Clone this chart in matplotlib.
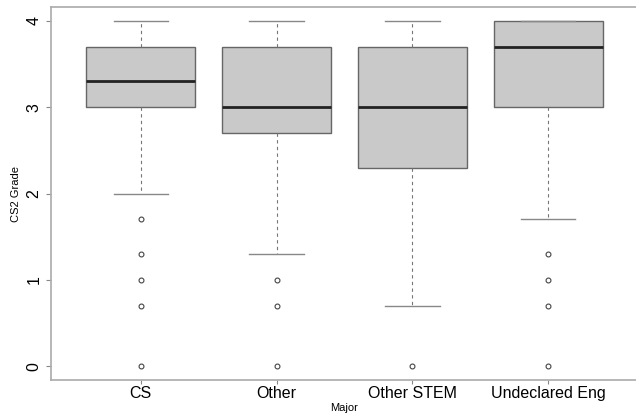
import numpy as np
import matplotlib.pyplot as plt

plt.rcParams['font.family'] = ['Liberation Sans', 'DejaVu Sans']

# Datos
majors = ['CS', 'Other', 'Other STEM', 'Undeclared Eng']
whisker_low = [2.0, 1.3, 0.7, 1.7]
q1 = [3.0, 2.7, 2.3, 3.0]
median = [3.3, 3.0, 3.0, 3.7]
q3 = [3.7, 3.7, 3.7, 4.0]
whisker_high = [4.0, 4.0, 4.0, 4.0]
outliers = [
    [1.7, 1.3, 1.0, 0.7, 0.0],
    [1.0, 0.7, 0.0],
    [0.0],
    [1.3, 1.0, 0.7, 0.0],
]

stats = []
for i, m in enumerate(majors):
    stats.append(dict(label=m, whislo=whisker_low[i], q1=q1[i], med=median[i],
                      q3=q3[i], whishi=whisker_high[i], fliers=outliers[i]))

fig = plt.figure(figsize=(6.36, 4.17), dpi=100)
ax = fig.add_axes([51 / 636, 1 - 380 / 417, 587 / 636, 373 / 417])

ax.bxp(stats, widths=0.8, patch_artist=True, showfliers=True,
       boxprops=dict(facecolor='#c9c9c9', edgecolor='#666666', linewidth=1.0),
       medianprops=dict(color='#222222', linewidth=2.0),
       whiskerprops=dict(color='#777777', linewidth=0.8, linestyle=(0, (3, 3))),
       capprops=dict(color='#888888', linewidth=1.0),
       capwidths=0.4,
       flierprops=dict(marker='o', markersize=3.5, markerfacecolor='none',
                       markeredgecolor='#444444', markeredgewidth=0.8))

ax.set_xlim(0.34, 4.66)
ax.set_ylim(-0.16, 4.16)
ax.set_yticks([0, 1, 2, 3, 4])
ax.set_yticklabels(['0', '1', '2', '3', '4'], rotation=90, va='center')
ax.tick_params(axis='both', labelsize=11.5, color='#888888', width=0.8)
ax.tick_params(axis='x', length=3, pad=1)
ax.tick_params(axis='y', length=3.5, pad=3.5)

for s in ax.spines.values():
    s.set_color('#aaaaaa')
    s.set_linewidth(1.2)

ax.set_xlabel('Major', fontsize=8, labelpad=2)
ax.set_ylabel('CS2 Grade', fontsize=8, labelpad=4)

fig.savefig('out.png', dpi=100)
